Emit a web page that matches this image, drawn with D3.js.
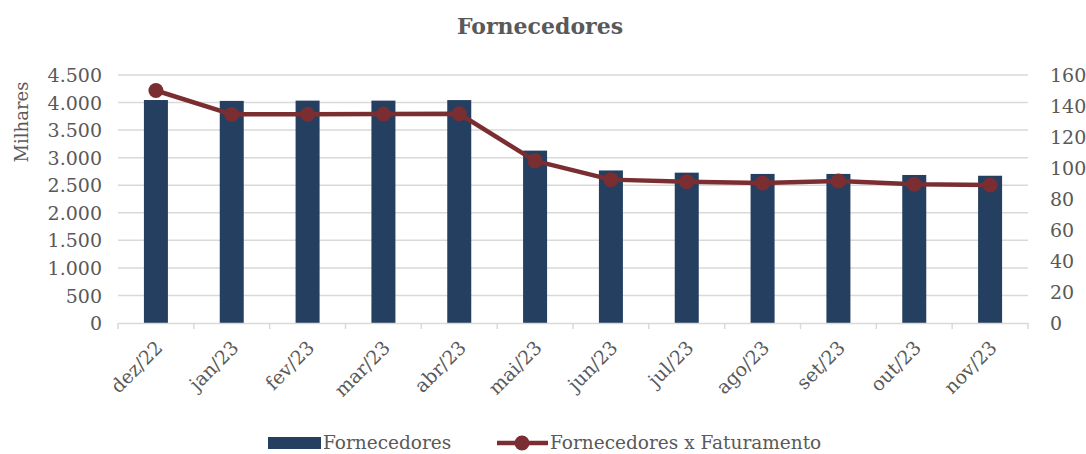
<!DOCTYPE html>
<html>
<head>
<meta charset="utf-8">
<script src="https://cdn.jsdelivr.net/npm/d3@7"></script>
<style>
  body { margin: 0; background: #fff; }
  text { font-family: "DejaVu Serif", "Liberation Serif", serif; fill: #595959; }
</style>
</head>
<body>
<svg id="chart" width="1086" height="454"></svg>
<script>
// data
const months = ['dez/22', 'jan/23', 'fev/23', 'mar/23', 'abr/23', 'mai/23',
                'jun/23', 'jul/23', 'ago/23', 'set/23', 'out/23', 'nov/23'];
const fornecedores = [4046, 4030, 4035, 4035, 4045, 3128, 2768, 2728, 2705, 2705, 2686, 2672];
const fornXfat = [150.0, 134.6, 134.6, 134.8, 135.0, 104.6, 92.5, 91.2, 90.4, 91.6, 89.5, 89.0];
const leftTicks = [0, 500, 1000, 1500, 2000, 2500, 3000, 3500, 4000, 4500];
const rightTicks = [0, 20, 40, 60, 80, 100, 120, 140, 160];

const svg = d3.select('#chart');
const width = 1086, height = 454;
const margin = {top: 75, right: 58, bottom: 131, left: 118};
const x0 = margin.left, x1 = width - margin.right;
const y0 = height - margin.bottom, y1 = margin.top;

const barColor = '#243F60';
const lineColor = '#7B2E31';
const gridColor = '#d9d9d9';

const x = d3.scaleBand().domain(months).range([x0, x1]);
const yL = d3.scaleLinear().domain([0, 4500]).range([y0, y1]);
const yR = d3.scaleLinear().domain([0, 160]).range([y0, y1]);

// title
svg.append('text')
    .attr('x', 540).attr('y', 34)
    .attr('text-anchor', 'middle')
    .style('font-size', '22px').style('font-weight', 'bold')
    .text('Fornecedores');

// gridlines
svg.append('g')
    .selectAll('line')
    .data(leftTicks.slice(1))
    .enter()
    .append('line')
    .attr('x1', x0).attr('x2', x1)
    .attr('y1', d => yL(d)).attr('y2', d => yL(d))
    .attr('stroke', gridColor).attr('stroke-width', 1.5);

// bars
const bw = 24;
svg.append('g')
    .selectAll('rect')
    .data(months)
    .enter()
    .append('rect')
    .attr('x', (d, i) => x(d) + x.bandwidth() / 2 - bw / 2)
    .attr('y', (d, i) => yL(fornecedores[i]))
    .attr('width', bw)
    .attr('height', (d, i) => y0 - yL(fornecedores[i]))
    .attr('fill', barColor);

// bottom axis
const xAxis = svg.append('g')
    .attr('transform', `translate(0, ${y0})`)
    .call(d3.axisBottom(x).tickSize(0).tickFormat(''));
xAxis.select('.domain').attr('stroke', gridColor).attr('stroke-width', 1.5);
svg.append('g')
    .selectAll('line')
    .data(months.concat(['end']))
    .enter()
    .append('line')
    .attr('x1', (d, i) => x0 + i * x.step()).attr('x2', (d, i) => x0 + i * x.step())
    .attr('y1', y0).attr('y2', y0 + 6)
    .attr('stroke', gridColor).attr('stroke-width', 1.5);

svg.append('g')
    .selectAll('text')
    .data(months)
    .enter()
    .append('text')
    .attr('transform', d => `translate(${x(d) + x.bandwidth() / 2 + 8}, ${y0 + 26}) rotate(-45)`)
    .attr('text-anchor', 'end')
    .style('font-size', '19px')
    .text(d => d);

// left axis
const fmt = d3.formatLocale({decimal: ',', thousands: '.', grouping: [3], currency: ['', '']}).format(',');
const yAxisL = svg.append('g')
    .attr('transform', `translate(${x0 - 16}, 0)`)
    .call(d3.axisLeft(yL).tickValues(leftTicks).tickSize(0).tickFormat(fmt));
yAxisL.select('.domain').remove();
yAxisL.selectAll('text').style('font-size', '19px').attr('dy', '0.35em').attr('x', 0).attr('fill', '#595959');

svg.append('text')
    .attr('transform', `translate(28, 122) rotate(-90)`)
    .attr('text-anchor', 'middle')
    .style('font-size', '18px')
    .text('Milhares');

// right axis
const yAxisR = svg.append('g')
    .attr('transform', `translate(${x1 + 22}, 0)`)
    .call(d3.axisRight(yR).tickValues(rightTicks).tickSize(0));
yAxisR.select('.domain').remove();
yAxisR.selectAll('text').style('font-size', '19px').attr('dy', '0.35em').attr('x', 0).attr('fill', '#595959');

// line
const line = d3.line()
    .x((d, i) => x(months[i]) + x.bandwidth() / 2)
    .y(d => yR(d));
svg.append('path')
    .datum(fornXfat)
    .attr('d', line)
    .attr('fill', 'none')
    .attr('stroke', lineColor)
    .attr('stroke-width', 4.5)
    .attr('stroke-linejoin', 'round');
svg.append('g')
    .selectAll('circle')
    .data(fornXfat)
    .enter()
    .append('circle')
    .attr('cx', (d, i) => x(months[i]) + x.bandwidth() / 2)
    .attr('cy', d => yR(d))
    .attr('r', 7.5)
    .attr('fill', lineColor);

// legend
const lg = svg.append('g').attr('transform', 'translate(0, 443)');
lg.append('rect').attr('x', 268).attr('y', -6).attr('width', 53).attr('height', 12).attr('fill', barColor);
lg.append('text').attr('x', 323).attr('y', 0).attr('dy', '0.35em').style('font-size', '18.5px').text('Fornecedores');
lg.append('line').attr('x1', 497).attr('x2', 548).attr('y1', 0).attr('y2', 0)
    .attr('stroke', lineColor).attr('stroke-width', 4.5);
lg.append('circle').attr('cx', 522).attr('cy', 0).attr('r', 7.5).attr('fill', lineColor);
lg.append('text').attr('x', 550).attr('y', 0).attr('dy', '0.35em').style('font-size', '18.5px').text('Fornecedores x Faturamento');
</script>
</body>
</html>
